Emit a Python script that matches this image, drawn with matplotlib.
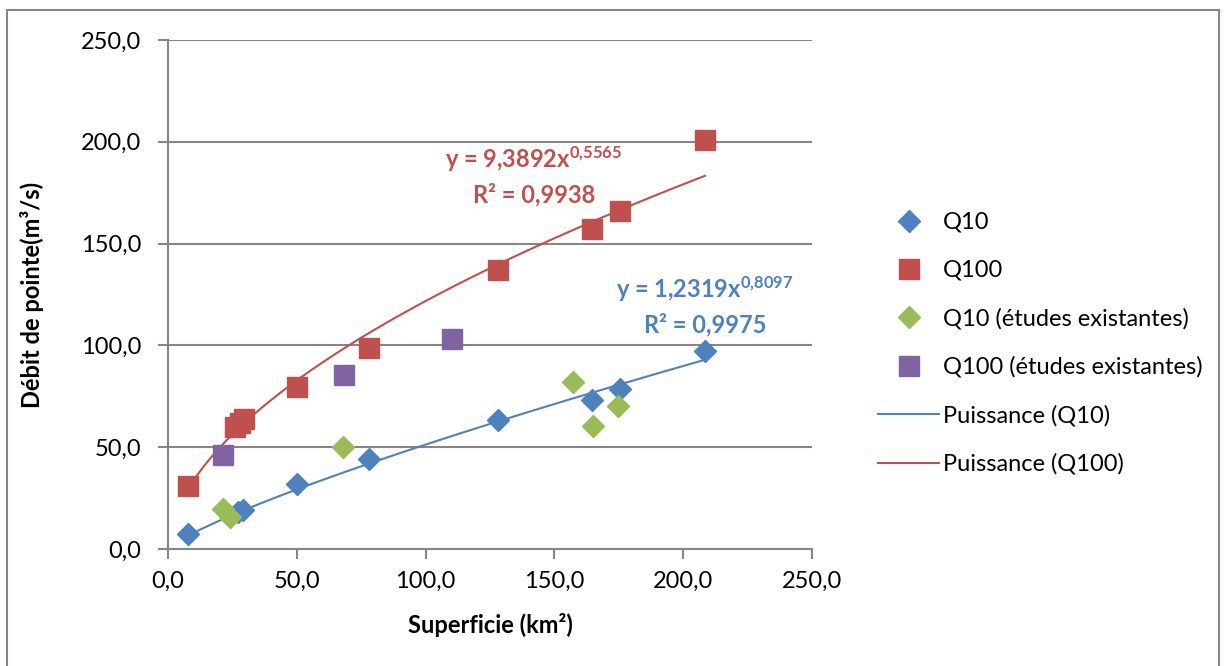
import numpy as np
import matplotlib.pyplot as plt
from matplotlib.patches import Rectangle
from matplotlib.ticker import FuncFormatter

# data
q10_x = [7.8, 27.0, 29.0, 50.1, 78.0, 128.1, 164.6, 175.5, 208.5]
q10_y = [7.4, 18.0, 19.2, 31.9, 44.2, 63.4, 73.2, 78.6, 97.2]

q100_x = [7.8, 26.0, 28.0, 29.5, 50.1, 78.0, 128.1, 164.6, 175.5, 208.5]
q100_y = [30.9, 60.0, 62.0, 64.0, 79.6, 98.7, 137.0, 157.2, 166.0, 200.9]

q10_ex_x = [21.4, 24.0, 68.0, 157.2, 165.0, 174.7]
q10_ex_y = [19.6, 15.7, 50.1, 82.0, 60.4, 70.2]

q100_ex_x = [21.4, 68.3, 110.2]
q100_ex_y = [46.2, 85.5, 103.1]

# power trendline coefficients (as shown on chart)
fit10_a, fit10_b = 1.2319, 0.8097
fit100_a, fit100_b = 9.3892, 0.5565

blue = '#4f81bd'
red = '#c0504d'
green = '#9bbb59'
purple = '#8064a2'
grid_col = '#868686'

plt.rcParams['font.family'] = ['Lato', 'DejaVu Sans']
plt.rcParams['mathtext.fontset'] = 'custom'
plt.rcParams['mathtext.rm'] = 'Lato:bold'
plt.rcParams['mathtext.bf'] = 'Lato:bold'
plt.rcParams['mathtext.default'] = 'bf'

fig = plt.figure(figsize=(12.26, 6.66), dpi=100)
ax = fig.add_axes([168 / 1226, 1 - 549 / 666, 644 / 1226, 509 / 666])

# outer chart border
fig.patches.append(Rectangle((7 / 1226, -0.05), 1212 / 1226, 1.05 - 10 / 666,
                             transform=fig.transFigure, fill=False,
                             edgecolor=grid_col, linewidth=1.5))

xs10 = np.linspace(min(q10_x), max(q10_x), 200)
xs100 = np.linspace(min(q100_x), max(q100_x), 200)

ax.plot(q10_x, q10_y, 'D', color=blue, markersize=11, markeredgecolor=blue,
        label='Q10', zorder=4)
ax.plot(q100_x, q100_y, 's', color=red, markersize=14, markeredgecolor=red,
        label='Q100', zorder=4)
ax.plot(q10_ex_x, q10_ex_y, 'D', color=green, markersize=11, markeredgecolor=green,
        label='Q10 (études existantes)', zorder=4)
ax.plot(q100_ex_x, q100_ex_y, 's', color=purple, markersize=14, markeredgecolor=purple,
        label='Q100 (études existantes)', zorder=4)
ax.plot(xs10, fit10_a * xs10 ** fit10_b, color=blue, linewidth=1.5,
        label='Puissance (Q10)', zorder=3)
ax.plot(xs100, fit100_a * xs100 ** fit100_b, color=red, linewidth=1.5,
        label='Puissance (Q100)', zorder=3)

ax.set_xlim(0, 250)
ax.set_ylim(0, 250)
ax.set_xticks(np.arange(0, 251, 50))
ax.set_yticks(np.arange(0, 251, 50))
fmt = FuncFormatter(lambda v, p: f'{v:.1f}'.replace('.', ','))
ax.xaxis.set_major_formatter(fmt)
ax.yaxis.set_major_formatter(fmt)
ax.tick_params(labelsize=17, colors=grid_col, labelcolor='black', length=7,
               width=1.5)
ax.tick_params(axis='y', pad=12)
ax.tick_params(axis='x', pad=9)

ax.yaxis.grid(True, color=grid_col, linewidth=1.5)
ax.set_axisbelow(True)
for s in ['top', 'right']:
    ax.spines[s].set_visible(False)
for s in ['left', 'bottom']:
    ax.spines[s].set_color(grid_col)
    ax.spines[s].set_linewidth(1.5)

ax.set_xlabel('Superficie (km²)', fontsize=17, fontweight='bold')
ax.set_ylabel('Débit de pointe(m³/s)', fontsize=17, fontweight='bold')
ax.xaxis.set_label_coords(0.5, -0.149)
ax.yaxis.set_label_coords(-0.211, 0.5)
ax.xaxis.label.set_va('center')
ax.yaxis.label.set_va('center')

ax.text(142, 183.5, 'y = 9,3892x$^{0{,}5565}$\nR² = 0,9938', color=red, fontsize=17,
        fontweight='bold', ha='center', va='center', linespacing=1.45)
ax.text(208.5, 119.5, 'y = 1,2319x$^{0{,}8097}$\nR² = 0,9975', color=blue, fontsize=17,
        fontweight='bold', ha='center', va='center', linespacing=1.45)

ax.legend(loc='upper left', bbox_to_anchor=(878 / 1226, 1 - 212 / 666),
          bbox_transform=fig.transFigure, borderaxespad=0, borderpad=0,
          frameon=False, fontsize=17, labelspacing=1.14, handlelength=2.6,
          handletextpad=0.15)

fig.savefig('out.png', dpi=100)
